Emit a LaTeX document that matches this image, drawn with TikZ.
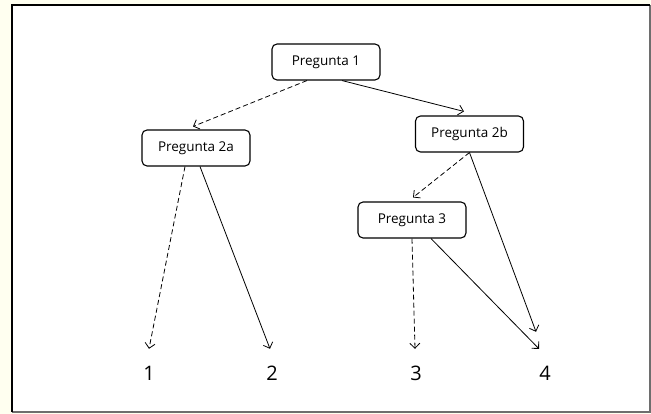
\documentclass[tikz,border=0pt]{standalone}
\usepackage{fontspec}
\setmainfont{Open Sans}
\usetikzlibrary{arrows.meta}
\definecolor{cream}{HTML}{FFFFF0}
\definecolor{framegray}{HTML}{6E6E6E}
\tikzset{
  qbox/.style={draw, line width=1.1pt, rounded corners=5pt, minimum width=108pt, minimum height=36pt, inner sep=0pt, font=\fontsize{13.5}{16}\selectfont},
  numnode/.style={inner sep=0pt, minimum height=48pt, font=\fontsize{20}{24}\selectfont},
  conn/.style={line width=0.8pt, -{Straight Barb[length=5pt,width=10pt]}},
  dconn/.style={conn, dash pattern=on 5pt off 3pt},
}
\begin{document}
\begin{tikzpicture}[x=1pt,y=-1pt]
\useasboundingbox (0,0) rectangle (651,414);
\fill[cream] (0,0) rectangle (651,414);
\fill[white] (12,5) rectangle (650,412);
\draw[framegray, line width=1.2pt] (650,5) -- (650,412) -- (12,412);
\draw[black, line width=1.2pt] (12,412) -- (12,5) -- (650,5);

\node[qbox] (q1)  at (326,62)    {Pregunta 1};
\node[qbox] (q2a) at (196,148)   {Pregunta 2a};
\node[qbox] (q2b) at (469.5,134) {Pregunta 2b};
\node[qbox] (q3)  at (412,220)   {Pregunta 3};

\node[numnode] (n1) at (149,373) {1};
\node[numnode] (n2) at (272,373) {2};
\node[numnode] (n3) at (416,373) {3};
\node[numnode] (n4) at (545,373) {4};

\draw[dconn] ([xshift=-19pt]q1.south) -- ([xshift=-3pt,yshift=3pt]q2a.north);
\draw[conn]  ([xshift=16pt]q1.south) -- ([xshift=-5.5pt,yshift=4pt]q2b.north);
\draw[dconn] ([xshift=-11pt]q2a.south) -- (n1.north);
\draw[conn]  ([xshift=4pt]q2a.south) -- ([xshift=-2pt]n2.north);
\draw[dconn] (q2b.south) -- ([xshift=1pt,yshift=4pt]q3.north);
\draw[conn]  (q2b.south) -- ([xshift=-9pt,yshift=17pt]n4.north);
\draw[dconn] (q3.south) -- ([xshift=-1pt]n3.north);
\draw[conn]  ([xshift=19pt]q3.south) -- ([xshift=-6pt]n4.north);
\end{tikzpicture}
\end{document}
